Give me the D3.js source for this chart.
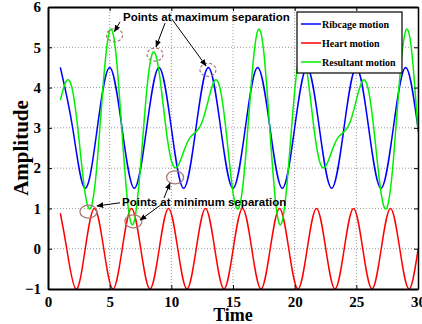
<!DOCTYPE html>
<html>
<head>
<meta charset="utf-8">
<script src="https://cdn.jsdelivr.net/npm/d3@7"></script>
<style>
  body { margin: 0; background: #fff; }
</style>
</head>
<body>
<script>
var W = 422, H = 324;
var m = {left: 48, top: 7, right: 4, bottom: 35};

// Ribcage motion (blue), read at each peak / mid / trough
var ribT = [1,2,3,4,5,6,7,8,9,10,11,12,13,14,15,16,17,18,19,20,21,22,23,24,25,26,27,28,29,30];
var ribV = [4.5,3,1.5,3,4.5,3,1.5,3,4.5,3,1.5,3,4.5,3,1.5,3,4.5,3,1.5,3,4.5,3,1.5,3,4.5,3,1.5,3,4.5,3];

// Heart motion (red), peaks / zero crossings / troughs
var heartT = [1,1.52,2.27,3.02,3.77,4.52,5.27,6.02,6.77,7.52,8.27,9.02,9.77,10.52,11.27,12.02,12.77,13.52,
              14.27,15.02,15.77,16.52,17.27,18.02,18.77,19.52,20.27,21.02,21.77,22.52,23.27,24.02,24.77,
              25.52,26.27,27.02,27.77,28.52,29.27,30];
var heartV = [0.88,0,-1,0,1,0,-1,0,1,0,-1,0,1,0,-1,0,1,0,-1,0,1,0,-1,0,1,0,-1,0,1,0,-1,0,1,0,-1,0,1,0,-1,-0.03];

// Resultant motion (green), read every 0.5
var resT = [1,1.5,2,2.5,3,3.5,4,4.5,5,5.5,6,6.5,7,7.5,8,8.5,9,9.5,10,10.5,11,11.5,12,12.5,13,13.5,14,14.5,15,15.5,
            16,16.5,17,17.5,18,18.5,19,19.5,20,20.5,21,21.5,22,22.5,23,23.5,24,24.5,25,25.5,26,26.5,27,27.5,28,28.5,29,29.5,30];
var resV = [3.69,4.17,3.91,2.75,1.40,1.03,2.19,4.17,5.41,4.87,2.90,1.03,0.69,2.04,3.91,4.87,4.40,3.15,2.19,2.04,
            2.41,2.75,2.90,3.15,3.69,4.17,3.91,2.75,1.40,1.03,2.19,4.17,5.41,4.87,2.90,1.03,0.69,2.04,3.91,4.87,
            4.40,3.15,2.19,2.04,2.41,2.75,2.90,3.15,3.69,4.17,3.91,2.75,1.40,1.03,2.19,4.17,5.41,4.87,2.90];

var xTicks = [0,5,10,15,20,25,30];
var yTicks = [-1,0,1,2,3,4,5,6];
var seriesNames = ["Ribcage motion", "Heart motion", "Resultant motion"];
var seriesColors = ["#0000ff", "#ff0000", "#00f000"];

// annotation ellipses [t, amp] and arrows [t0, a0, t1, a1]
var maxCircles = [[5.4,5.3],[8.68,4.82],[12.97,4.44]];
var minCircles = [[3.28,0.92],[6.93,0.68],[10.3,1.77]];
var maxArrows = [[5.84,5.63,5.39,5.39],[9.49,5.6,8.76,5.01],[10.05,5.7,12.81,4.54]];
var minArrows = [[5.84,1.14,3.97,1.06],[9.24,1.11,7.46,0.71],[9.41,1.26,9.89,1.63]];

var svg = d3.select("body").append("svg").attr("width", W).attr("height", H);

var x = d3.scaleLinear().domain([0, 30]).range([m.left, W - m.right]);
var y = d3.scaleLinear().domain([-1, 6]).range([H - m.bottom, m.top]);

svg.append("defs").append("clipPath").attr("id", "clip")
  .append("rect").attr("x", m.left).attr("y", m.top)
  .attr("width", W - m.left - m.right).attr("height", H - m.top - m.bottom);

var marker = svg.select("defs").append("marker")
  .attr("id", "arr").attr("viewBox", "0 0 10 10").attr("refX", 9).attr("refY", 5)
  .attr("markerWidth", 7).attr("markerHeight", 7).attr("orient", "auto");
marker.append("path").attr("d", "M0,1 L10,5 L0,9 z").attr("fill", "#000");

// grid
svg.append("g").selectAll("line").data(xTicks.slice(1, -1)).enter().append("line")
  .attr("x1", d => x(d)).attr("x2", d => x(d)).attr("y1", y(-1)).attr("y2", y(6))
  .attr("stroke", "#999").attr("stroke-dasharray", "1,2");
svg.append("g").selectAll("line").data(yTicks.slice(1, -1)).enter().append("line")
  .attr("y1", d => y(d)).attr("y2", d => y(d)).attr("x1", x(0)).attr("x2", x(30))
  .attr("stroke", "#999").attr("stroke-dasharray", "1,2");

// lines
var line = d3.line().x(d => x(d[0])).y(d => y(d[1])).curve(d3.curveNatural);
var series = [d3.zip(ribT, ribV), d3.zip(heartT, heartV), d3.zip(resT, resV)];
svg.append("g").attr("clip-path", "url(#clip)").selectAll("path").data(series).enter().append("path")
  .attr("d", line).attr("fill", "none")
  .attr("stroke", (d, i) => seriesColors[i]).attr("stroke-width", 1.5);

// axes (ticks inward)
var fontT = "'Liberation Serif', 'Times New Roman', serif";
svg.append("g").attr("transform", "translate(0," + y(-1) + ")")
  .call(d3.axisBottom(x).tickValues(xTicks).tickSizeInner(-4).tickSizeOuter(0).tickPadding(7))
  .call(g => g.select(".domain").attr("stroke-width", 2));
svg.append("g").attr("transform", "translate(0," + y(6) + ")")
  .call(d3.axisTop(x).tickValues(xTicks).tickSizeInner(-4).tickSizeOuter(0).tickFormat(""))
  .call(g => g.select(".domain").attr("stroke-width", 2));
svg.append("g").attr("transform", "translate(" + x(0) + ",0)")
  .call(d3.axisLeft(y).tickValues(yTicks).tickSizeInner(-4).tickSizeOuter(0).tickPadding(7)
        .tickFormat(d => d < 0 ? "\u2212" + (-d) : d))
  .call(g => g.select(".domain").attr("stroke-width", 2));
svg.append("g").attr("transform", "translate(" + x(30) + ",0)")
  .call(d3.axisRight(y).tickValues(yTicks).tickSizeInner(-4).tickSizeOuter(0).tickFormat(""))
  .call(g => g.select(".domain").attr("stroke-width", 1.5));
svg.selectAll(".tick text").attr("font-family", fontT).attr("font-weight", "bold")
  .attr("font-size", 15).attr("fill", "#000");

// axis titles
svg.append("text").attr("x", x(15)).attr("y", 321).attr("text-anchor", "middle")
  .attr("font-family", fontT).attr("font-weight", "bold").attr("font-size", 18).text("Time");
svg.append("text").attr("transform", "translate(28," + y(2.5) + ") rotate(-90)")
  .attr("text-anchor", "middle").attr("font-family", fontT).attr("font-weight", "bold")
  .attr("font-size", 21).text("Amplitude");

// annotations
var fontA = "'Liberation Sans', Arial, sans-serif";
svg.append("g").selectAll("ellipse").data(maxCircles).enter().append("ellipse")
  .attr("cx", d => x(d[0])).attr("cy", d => y(d[1])).attr("rx", 8).attr("ry", 6.5)
  .attr("fill", "none").attr("stroke", "#a87878").attr("stroke-width", 1.2).attr("stroke-dasharray", "3,2");
svg.append("g").selectAll("ellipse").data(minCircles).enter().append("ellipse")
  .attr("cx", d => x(d[0])).attr("cy", d => y(d[1])).attr("rx", 8.5).attr("ry", 6.5)
  .attr("fill", "none").attr("stroke", "#a87878").attr("stroke-width", 1.3);
svg.append("g").selectAll("line").data(maxArrows.concat(minArrows)).enter().append("line")
  .attr("x1", d => x(d[0])).attr("y1", d => y(d[1])).attr("x2", d => x(d[2])).attr("y2", d => y(d[3]))
  .attr("stroke", "#000").attr("stroke-width", 1).attr("marker-end", "url(#arr)");
svg.append("text").attr("x", x(6.08)).attr("y", y(5.74)).attr("dy", "0.35em")
  .attr("font-family", fontA).attr("font-weight", "bold").attr("font-size", 11.5)
  .text("Points at maximum separation");
svg.append("text").attr("x", x(6.0)).attr("y", y(1.16)).attr("dy", "0.35em")
  .attr("font-family", fontA).attr("font-weight", "bold").attr("font-size", 11.5)
  .text("Points at minimum separation");

// legend
var lg = svg.append("g").attr("transform", "translate(297,12)");
lg.append("rect").attr("width", 105).attr("height", 61).attr("fill", "#fff")
  .attr("stroke", "#000").attr("stroke-width", 1.2);
var li = lg.selectAll("g.item").data(seriesNames).enter().append("g")
  .attr("transform", (d, i) => "translate(0," + (12 + i * 19) + ")");
li.append("line").attr("x1", 4).attr("x2", 24).attr("stroke", (d, i) => seriesColors[i]).attr("stroke-width", 1.5);
li.append("text").attr("x", 25).attr("dy", "0.35em").attr("font-family", fontT)
  .attr("font-weight", "bold").attr("font-size", 10).text(d => d);
</script>
</body>
</html>
